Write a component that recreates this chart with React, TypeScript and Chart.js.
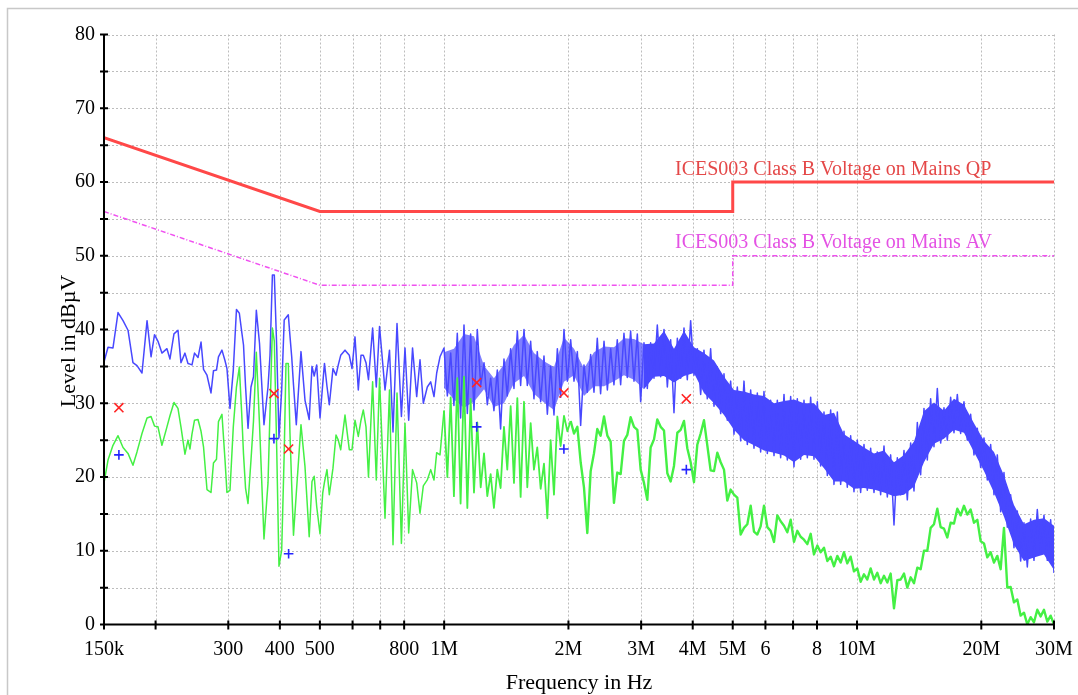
import React, { useEffect, useRef } from 'react';
import { Chart, registerables } from 'chart.js';

Chart.register(...registerables);

// Receiver sweep frequencies (kHz), shared by the peak and average scans
const sweepFreqKHz = [
  150, 153.4, 157.7, 162.2, 166.8, 171.5, 176.3, 180.3, 185.4, 190.7,
  195.0, 198.8, 202.7, 207.2, 213.1, 216.7, 221.6, 226.6, 230.4, 235.6,
  239.6, 242.3, 245.0, 248.5, 253.4, 257.7, 261.3, 266.4, 272.4, 276.2,
  280.9, 284.0, 289.6, 294.5, 297.8, 302.9, 308.5, 314.0, 319.1, 323.3,
  326.6, 330.3, 334.9, 340.5, 345.3, 350.8, 357.1, 366.1, 374.4, 378.6,
  383.7, 387.8, 393.0, 398.0, 404.1, 409.8, 413.9, 419.3, 423.2, 427.3,
  431.6, 438.4, 450.0, 460.2, 471.1, 478.5, 484.4, 491.2, 500.4, 508.0,
  513.0, 520.2, 527.0, 537.9, 547.1, 554.1, 561.6, 575.2, 589.2, 598.1,
  608.2, 619.5, 628.9, 637.0, 646.7, 655.7, 671.0, 684.9, 697.4, 719.0,
  737.2, 751.8, 768.8, 787.9, 803.8, 820.5, 838.3, 858.0, 874.0, 890.2,
  910.3, 927.7, 944.9, 959.2, 977.1,
  999, 1018, 1037, 1056, 1076, 1096, 1117, 1138, 1159,
  1181, 1203, 1226, 1249, 1272, 1296, 1320, 1345, 1370,
  1396, 1422, 1449, 1476, 1504, 1532, 1561, 1590, 1620,
  1650, 1681, 1713, 1745, 1778, 1811, 1845, 1880, 1915,
  1951, 1988, 2025, 2063, 2102, 2141, 2181, 2222, 2264,
  2306, 2349, 2393, 2439, 2485, 2531, 2578, 2626, 2676,
  2726, 2777, 2829, 2883, 2937, 2992, 3048, 3105, 3163,
  3223, 3283, 3345, 3408, 3472, 3537, 3603, 3671, 3740,
  3810, 3881, 3954, 4028, 4104, 4181, 4259, 4339, 4420,
  4504, 4588, 4675, 4762, 4851, 4942, 5035, 5129, 5226,
  5324, 5424, 5526, 5629, 5735, 5842, 5952, 6064, 6177,
  6294, 6412, 6532, 6655, 6780, 6907, 7036, 7168, 7302,
  7440, 7580, 7722, 7866, 8014, 8164, 8318, 8474, 8633,
  8795, 8960, 9128, 9299, 9473, 9651, 9832, 10016, 10204,
  10396, 10591, 10790, 10993, 11199, 11409, 11623, 11841, 12063,
  12290, 12521, 12756, 12995, 13239, 13487, 13740, 13998, 14260,
  14528, 14801, 15078, 15361, 15649, 15943, 16242, 16547, 16857,
  17174, 17496, 17824, 18158, 18499, 18846, 19200, 19560, 19927,
  20301, 20682, 21070, 21466, 21869, 22279, 22697, 23123, 23557,
  23998, 24448, 24907, 25375, 25851, 26336, 26830, 27333, 27846,
  28369, 28901, 29443, 30000,
];

// Peak scan (dBµV)
const peakLevels = [
  35.6, 37.6, 37.5, 42.3, 41.2, 39.9, 35.5, 35.1, 34.1, 41.2,
  36.3, 39.3, 38.4, 36.8, 37.4, 36.0, 39.4, 39.9, 35.5, 36.8,
  35.4, 35.3, 35.2, 36.8, 36.2, 38.3, 34.6, 33.8, 31.4, 34.4,
  34.5, 36.3, 37.2, 35.8, 34.7, 29.3, 34.5, 42.7, 42.2, 39.7,
  37.9, 32.3, 26.6, 32.2, 33.6, 42.6, 38.1, 27.1, 32.2, 36.5,
  47.4, 47.4, 37.7, 25.3, 31.8, 41.3, 41.6, 42.0, 39.1, 36.3,
  32.5, 27.1, 37.0, 30.4, 27.8, 35.0, 33.7, 35.2, 28.0, 32.6,
  35.4, 32.3, 29.8, 34.7, 33.8, 35.2, 36.5, 37.2, 36.5, 34.7,
  39.0, 31.8, 36.5, 36.5, 35.5, 33.2, 40.2, 32.2, 40.4, 31.8,
  37.2, 26.1, 40.8, 28.2, 37.5, 27.7, 37.5, 30.9, 35.9, 30.0,
  32.2, 32.9, 30.9, 34.1, 36.3,
  37.5, 31.0, 36.8, 29.7, 39.5, 28.0, 40.6, 28.6, 39.4,
  29.1, 40.0, 32.4, 35.5, 29.8, 33.4, 29.0, 34.5, 26.5,
  36.0, 31.0, 37.4, 32.0, 39.8, 32.4, 40.0, 32.4, 38.4,
  30.6, 37.0, 30.2, 36.4, 28.5, 35.0, 28.4, 37.4, 30.8,
  40.0, 33.0, 38.6, 33.0, 37.0, 27.0, 35.2, 31.5, 36.6,
  31.5, 38.8, 31.3, 38.4, 31.8, 37.4, 32.5, 38.6, 32.5,
  39.5, 33.5, 39.8, 33.0, 39.4, 30.2, 38.2, 32.0, 38.2,
  33.4, 40.6, 33.6, 40.0, 32.2, 38.6, 28.7, 38.8, 33.4,
  40.2, 33.2, 41.2, 33.8, 37.4, 31.2, 37.2, 30.6, 37.4,
  29.6, 34.9, 28.6, 34.0, 27.7, 33.0, 25.8, 32.2, 24.9,
  33.0, 24.4, 31.8, 23.9, 31.4, 23.4, 31.6, 23.2, 30.4,
  22.9, 30.4, 22.6, 31.2, 22.3, 30.9, 21.4, 30.6, 22.4,
  30.4, 22.6, 30.8, 22.4, 30.2, 21.5, 28.8, 20.2, 29.1,
  19.0, 28.8, 19.0, 26.2, 18.6, 25.6, 18.0, 25.0, 17.9,
  24.4, 18.2, 23.9, 17.9, 23.4, 17.6, 24.2, 17.3, 23.0,
  13.5, 22.6, 17.6, 23.6, 16.9, 24.6, 18.1, 27.4, 20.3,
  29.3, 22.3, 30.6, 24.1, 32.0, 24.6, 29.4, 25.0, 30.8,
  26.0, 31.2, 25.9, 30.2, 25.0, 28.5, 23.0, 26.6, 21.3,
  25.3, 19.6, 24.4, 17.6, 23.0, 15.3, 20.6, 13.2, 17.6,
  10.4, 15.4, 8.6, 13.8, 7.8, 14.3, 8.7, 15.6, 9.6,
  14.8, 8.7, 14.2, 7.0,
];

// Average scan (dBµV)
const averageLevels = [
  19.2, 22.3, 24.3, 25.6, 24.0, 23.2, 21.6, 23.4, 25.9, 28.0,
  28.2, 26.9, 26.8, 24.3, 26.8, 28.3, 30.1, 29.3, 26.8, 23.1,
  25.0, 23.8, 25.8, 27.7, 27.8, 26.2, 24.1, 18.3, 17.9, 21.9,
  22.4, 27.5, 28.5, 22.4, 17.9, 18.2, 26.8, 32.2, 34.9, 28.6,
  23.1, 18.5, 16.4, 22.3, 27.6, 36.9, 27.1, 11.6, 19.2, 28.8,
  40.2, 38.4, 23.9, 7.9, 10.1, 23.2, 35.4, 35.4, 25.9, 18.9,
  12.1, 17.8, 27.1, 21.4, 11.9, 19.4, 20.1, 16.0, 12.3, 17.8,
  19.3, 21.0, 17.6, 21.2, 25.7, 25.0, 23.7, 28.4, 23.7, 23.7,
  27.7, 25.5, 27.7, 29.1, 26.8, 20.0, 32.9, 19.6, 33.4, 14.4,
  31.8, 10.8, 31.4, 11.0, 27.3, 12.4, 21.0, 19.2, 15.1, 18.8,
  19.6, 21.0, 19.6, 23.3, 23.0,
  29.0, 20.0, 30.8, 17.4, 33.4, 16.4, 33.6, 15.8, 30.6,
  17.9, 27.4, 18.6, 23.2, 17.4, 20.4, 15.8, 21.0, 18.5,
  26.8, 21.0, 29.6, 19.2, 30.7, 17.3, 30.2, 18.6, 27.3,
  21.0, 24.0, 18.4, 21.8, 14.4, 25.0, 17.6, 28.2, 24.2,
  28.3, 26.2, 27.6, 25.9, 26.8, 22.0, 18.6, 12.4, 20.8,
  23.2, 26.5, 25.6, 28.2, 25.6, 24.8, 16.5, 20.6, 20.4,
  24.9, 25.7, 28.1, 26.8, 26.4, 21.0, 19.2, 16.9, 24.0,
  25.1, 27.8, 26.8, 26.3, 20.5, 19.4, 21.5, 26.0, 26.4,
  27.6, 23.9, 22.0, 19.3, 24.4, 25.9, 27.7, 24.3, 20.9,
  20.8, 23.3, 22.0, 21.0, 16.8, 18.3, 17.6, 17.2, 12.2,
  13.1, 13.6, 16.1, 12.6, 12.2, 13.3, 16.1, 13.2, 12.7,
  11.2, 14.8, 14.0, 13.4, 12.5, 14.2, 11.2, 12.7, 11.9,
  11.5, 10.9, 12.3, 9.5, 10.7, 9.8, 10.4, 8.6, 9.2,
  7.9, 9.3, 8.4, 9.8, 8.3, 9.2, 7.2, 7.6, 5.8,
  6.8, 6.1, 7.6, 6.1, 7.0, 5.6, 6.6, 5.7, 6.9,
  2.2, 6.0, 6.1, 6.9, 5.0, 6.4, 5.6, 7.7, 7.5,
  10.0, 10.0, 13.1, 13.6, 15.7, 13.2, 13.0, 11.8, 13.8,
  13.7, 15.7, 14.8, 16.1, 14.9, 15.6, 13.8, 14.2, 11.3,
  11.0, 9.1, 9.8, 8.4, 9.3, 7.5, 13.1, 5.0, 5.1,
  3.0, 3.4, 1.2, 1.6, 0.0, 1.0, 0.3, 2.0, 1.1,
  2.0, 0.4, 1.2, 0.0,
];

// Dense core of the peak scan above 1 MHz (where the trace merges into a band)
const peakBandFreqKHz = [
  999, 1056, 1117, 1181, 1249, 1320, 1396, 1476, 1561, 1650,
  1745, 1845, 1951, 2063, 2181, 2306, 2439, 2578, 2726, 2883,
  3048, 3223, 3408, 3603, 3810, 4028, 4259, 4504, 4762, 5035,
  5324, 5629, 5952, 6294, 6655, 7036, 7440, 7866, 8318, 8795,
  9299, 9832, 10396, 10993, 11623, 12290, 12995, 13740, 14528, 15361,
  16242, 17174, 18158, 19200, 20301, 21466, 22697, 23998, 25375, 26830,
  28369, 30000,
];
const peakBandUpper = [
  36.9, 37.4, 39.4, 39.1, 35.1, 33.4, 35.3, 37.9, 39.3, 36.8,
  35.7, 34.9, 38.9, 37.4, 34.7, 36.9, 37.7, 37.6, 38.8, 38.7,
  38.0, 38.1, 39.8, 37.4, 39.8, 37.6, 36.8, 35.8, 33.6, 31.8,
  31.6, 31.2, 31.0, 30.0, 30.3, 30.5, 30.0, 30.0, 28.4, 28.7,
  25.8, 24.9, 24.0, 23.2, 23.6, 22.0, 23.0, 24.8, 28.9, 30.1,
  29.0, 30.6, 29.8, 27.3, 24.9, 23.4, 20.2, 16.2, 13.6, 14.2,
  14.4, 13.4,
];
const peakBandLower = [
  32.1, 30.5, 29.4, 30.2, 31.9, 29.5, 30.0, 32.7, 33.7, 31.3,
  30.1, 29.1, 32.9, 33.8, 31.0, 32.3, 32.3, 33.0, 33.8, 33.2,
  31.9, 33.6, 33.7, 32.8, 33.7, 34.1, 31.4, 30.0, 28.4, 26.4,
  25.0, 24.3, 23.6, 23.3, 22.9, 22.0, 23.0, 22.8, 21.2, 19.4,
  19.4, 18.4, 18.5, 18.3, 17.9, 17.4, 17.6, 18.7, 22.0, 24.5,
  25.2, 26.4, 26.0, 23.4, 20.8, 17.9, 14.6, 10.8, 8.6, 9.1,
  9.5, 7.4,
];

// Final measurement markers
const qpMarkerFreqKHz = [163, 387, 420, 1199, 1950, 3860];
const qpMarkerLevels = [29.4, 31.3, 23.8, 32.8, 31.4, 30.6];
const avMarkerFreqKHz = [163, 387, 420, 1199, 1950, 3860];
const avMarkerLevels = [23.0, 25.2, 9.6, 26.8, 23.8, 21.0];

// Limit lines
const qpLimitFreqKHz = [150, 500, 5000, 5000, 30000];
const qpLimitLevels = [66, 56, 56, 60, 60];
const avLimitFreqKHz = [150, 500, 5000, 5000, 30000];
const avLimitLevels = [56, 46, 46, 50, 50];

// Axes
const freqTicksKHz = [150, 200, 300, 400, 500, 600, 700, 800, 1000, 2000, 3000, 4000, 5000, 6000, 7000, 8000, 10000, 20000, 30000];
const freqTickLabels = ['150k', '', '300', '400', '500', '', '', '800', '1M', '2M', '3M', '4M', '5M', '6', '', '8', '10M', '20M', '30M'];
const levelTicks = [0, 5, 10, 15, 20, 25, 30, 35, 40, 45, 50, 55, 60, 65, 70, 75, 80];
const levelTickLabels = ['0', '', '10', '', '20', '', '30', '', '40', '', '50', '', '60', '', '70', '', '80'];

const xTitle = 'Frequency in Hz';
const yTitle = 'Level in dBµV';
const qpLimitName = 'ICES003 Class B Voltage on Mains QP';
const avLimitName = 'ICES003 Class B Voltage on Mains AV';

const FONT = '"Liberation Serif", "Times New Roman", serif';
const PEAK_COLOR = '#4848ff';
const PEAK_LIGHT = 'rgba(72, 72, 255, 0.7)';
const AVG_COLOR = '#44f044';
const NONE = 'rgba(0, 0, 0, 0)';

const pairs = (xs: number[], ys: number[]) => xs.map((x, i) => ({ x, y: ys[i] }));

const averageStroke = (c: any) => {
  const f = c.p0.parsed.x;
  if (f < 990) return 1.5;
  if (f < 1990) return 1.8;
  return 2.4;
};
const bandFill = (c: any) => (c.p0.parsed.x < 2990 ? PEAK_LIGHT : PEAK_COLOR);

const decorPlugin = {
  id: 'decor',
  beforeDraw(chart: any) {
    const { ctx, width, height } = chart;
    ctx.save();
    ctx.fillStyle = '#ffffff';
    ctx.fillRect(0, 0, width, height);
    ctx.strokeStyle = '#c8c8c8';
    ctx.lineWidth = 1.5;
    ctx.beginPath();
    ctx.moveTo(7.5, height);
    ctx.lineTo(7.5, 8.5);
    ctx.lineTo(width, 8.5);
    ctx.stroke();
    ctx.restore();
  },
  beforeDatasetsDraw(chart: any) {
    const { ctx, chartArea: a, scales } = chart;
    const xs = scales.x;
    const ys = scales.y;
    ctx.save();
    ctx.strokeStyle = '#bdbdbd';
    ctx.lineWidth = 1;
    ctx.setLineDash([2, 2]);
    ctx.beginPath();
    freqTicksKHz.forEach((f, i) => {
      if (i === 0) return;
      const px = Math.round(xs.getPixelForValue(f)) + 0.5;
      ctx.moveTo(px, a.top);
      ctx.lineTo(px, a.bottom);
    });
    levelTicks.forEach((v, i) => {
      if (i === 0) return;
      const py = Math.round(ys.getPixelForValue(v)) + 0.5;
      ctx.moveTo(a.left, py);
      ctx.lineTo(a.right, py);
    });
    ctx.stroke();
    ctx.restore();
  },
  afterDatasetsDraw(chart: any) {
    const { ctx, chartArea: a, scales } = chart;
    const xs = scales.x;
    const ys = scales.y;
    ctx.save();
    ctx.strokeStyle = '#000';
    ctx.lineWidth = 2;
    ctx.beginPath();
    ctx.moveTo(a.left, a.top);
    ctx.lineTo(a.left, a.bottom + 1);
    ctx.moveTo(a.left - 1, a.bottom);
    ctx.lineTo(a.right, a.bottom);
    levelTicks.forEach((v) => {
      const py = ys.getPixelForValue(v);
      ctx.moveTo(a.left - 4, py);
      ctx.lineTo(a.left + 4, py);
    });
    freqTicksKHz.forEach((f) => {
      const px = xs.getPixelForValue(f);
      ctx.moveTo(px, a.bottom - 4);
      ctx.lineTo(px, a.bottom + 5);
    });
    ctx.stroke();
    ctx.restore();
  },
  afterDraw(chart: any) {
    const { ctx, chartArea: a } = chart;
    ctx.save();
    ctx.fillStyle = '#000';
    ctx.font = `22px ${FONT}`;
    ctx.textAlign = 'center';
    ctx.textBaseline = 'alphabetic';
    ctx.fillText(xTitle, (a.left + a.right) / 2, 689);
    ctx.save();
    ctx.translate(75, 341);
    ctx.rotate(-Math.PI / 2);
    ctx.fillText(yTitle, 0, 0);
    ctx.restore();
    ctx.textAlign = 'left';
    ctx.font = `20px ${FONT}`;
    ctx.fillStyle = '#e44848';
    ctx.fillText(qpLimitName, 675, 175);
    ctx.fillStyle = '#e452e4';
    ctx.fillText(avLimitName, 675, 248);
    ctx.restore();
  },
};

export default function App() {
  const canvasRef = useRef<HTMLCanvasElement | null>(null);

  useEffect(() => {
    const canvas = canvasRef.current;
    if (!canvas) return;
    const chart = new Chart(canvas, {
      type: 'line',
      data: {
        datasets: [
          {
            label: 'QP final',
            data: pairs(qpMarkerFreqKHz, qpMarkerLevels),
            showLine: false,
            pointStyle: 'crossRot',
            pointRadius: 6.4,
            pointBorderWidth: 1.6,
            borderColor: '#ff2424',
            backgroundColor: '#ff2424',
          },
          {
            label: 'AV final',
            data: pairs(avMarkerFreqKHz, avMarkerLevels),
            showLine: false,
            pointStyle: 'cross',
            pointRadius: 4.8,
            pointBorderWidth: 1.6,
            borderColor: '#2424ff',
            backgroundColor: '#2424ff',
          },
          {
            label: qpLimitName,
            data: pairs(qpLimitFreqKHz, qpLimitLevels),
            borderColor: '#ff4848',
            borderWidth: 3,
            pointRadius: 0,
          },
          {
            label: avLimitName,
            data: pairs(avLimitFreqKHz, avLimitLevels),
            borderColor: '#f050f0',
            borderWidth: 1.5,
            borderDash: [5, 2, 1, 2],
            pointRadius: 0,
          },
          {
            label: 'Average',
            data: pairs(sweepFreqKHz, averageLevels),
            borderColor: AVG_COLOR,
            borderWidth: 1.5,
            borderJoinStyle: 'round',
            pointRadius: 0,
            segment: { borderWidth: averageStroke },
          },
          {
            label: 'Peak',
            data: pairs(sweepFreqKHz, peakLevels),
            borderColor: PEAK_COLOR,
            borderWidth: 1.5,
            borderJoinStyle: 'round',
            pointRadius: 0,
          },
          {
            label: 'Peak band upper',
            data: pairs(peakBandFreqKHz, peakBandUpper),
            borderColor: NONE,
            borderWidth: 1,
            pointRadius: 0,
          },
          {
            label: 'Peak band lower',
            data: pairs(peakBandFreqKHz, peakBandLower),
            borderColor: NONE,
            borderWidth: 1,
            backgroundColor: PEAK_COLOR,
            fill: '-1',
            pointRadius: 0,
            segment: { backgroundColor: bandFill },
          },
        ],
      },
      options: {
        responsive: false,
        animation: false,
        devicePixelRatio: 1,
        events: [],
        layout: { padding: { top: 34.5, right: 24, left: 0, bottom: 0 } },
        elements: { line: { tension: 0 } },
        plugins: { legend: { display: false }, tooltip: { enabled: false }, filler: { propagate: false } },
        scales: {
          x: {
            type: 'logarithmic',
            position: 'bottom',
            min: 150,
            max: 30000,
            afterBuildTicks: (s: any) => {
              s.ticks = freqTicksKHz.map((v) => ({ value: v }));
            },
            afterFit: (s: any) => {
              s.height = 70.5;
              s.paddingLeft = 0;
              s.paddingRight = 0;
            },
            grid: { display: false, drawTicks: false },
            border: { display: false },
            ticks: {
              autoSkip: false,
              maxRotation: 0,
              minRotation: 0,
              padding: 13,
              color: '#000',
              font: { size: 20, family: FONT },
              callback: (_v: any, i: number) => freqTickLabels[i],
            },
          },
          y: {
            type: 'linear',
            min: 0,
            max: 80,
            afterBuildTicks: (s: any) => {
              s.ticks = levelTicks.map((v) => ({ value: v }));
            },
            afterFit: (s: any) => {
              s.width = 104;
              s.paddingTop = 0;
              s.paddingBottom = 0;
            },
            grid: { display: false, drawTicks: false },
            border: { display: false },
            ticks: {
              autoSkip: false,
              padding: 9,
              color: '#000',
              font: { size: 20, family: FONT },
              callback: (_v: any, i: number) => levelTickLabels[i],
            },
          },
        },
      },
      plugins: [decorPlugin],
    } as any);
    return () => chart.destroy();
  }, []);

  return (
    <div style={{ position: 'fixed', left: 0, top: 0, width: 1078, height: 695, background: '#fff' }}>
      <canvas ref={canvasRef} width={1078} height={695} style={{ display: 'block', width: 1078, height: 695 }} />
    </div>
  );
}
